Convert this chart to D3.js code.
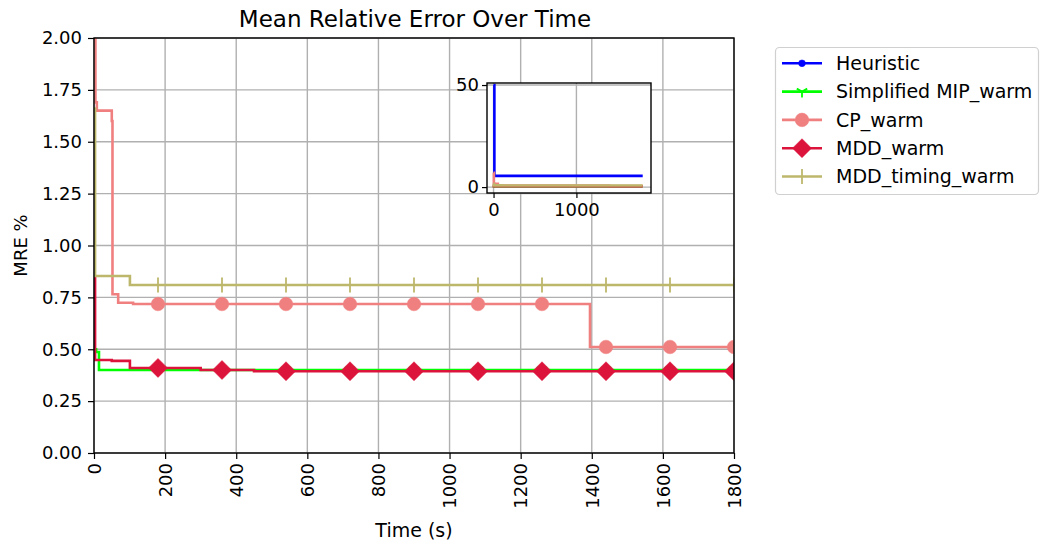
<!DOCTYPE html>
<html><head><meta charset="utf-8">
<script src="https://cdn.jsdelivr.net/npm/d3@7"></script>
<style>body{margin:0;background:#fff}svg{display:block;font-family:"DejaVu Sans",sans-serif}</style>
</head><body><svg id="c" width="1040" height="543"></svg>
<script>
// ---- data ----
const seriesNames = ["Heuristic","Simplified MIP_warm","CP_warm","MDD_warm","MDD_timing_warm"];
const seriesColors = ["#0000ff","#00ff00","#f08080","#dc143c","#bdb76b"];
const heuristicT = [0, 10, 1800];
const heuristicV = [50, 5.5, 5.5];
const simplifiedT = [0, 6, 14, 1800];
const simplifiedV = [0.50, 0.487, 0.400, 0.400];
const cpT = [0, 4, 8, 50, 52, 68, 110, 1395, 1800];
const cpV = [7.0, 1.69, 1.65, 1.60, 0.765, 0.724, 0.718, 0.511, 0.511];
const mddT = [0, 3, 50, 101, 300, 450, 1800];
const mddV = [0.85, 0.448, 0.444, 0.41, 0.400, 0.394, 0.394];
const mddTimingT = [0, 3, 101, 1800];
const mddTimingV = [1.66, 0.853, 0.810, 0.810];
const markerTimes = [180, 360, 540, 720, 900, 1080, 1260, 1440, 1620, 1800];
const xTicks = [0,200,400,600,800,1000,1200,1400,1600,1800];
const yTicks = [0,0.25,0.5,0.75,1.0,1.25,1.5,1.75,2.0];
const insetXTicks = [0, 1000];
const insetYTicks = [0, 50];
const markerTypes = ["dot","tri","circle","diamond","vline"];

const allT = [heuristicT, simplifiedT, cpT, mddT, mddTimingT];
const allV = [heuristicV, simplifiedV, cpV, mddV, mddTimingV];
const series = seriesNames.map((n,i)=>({name:n,color:seriesColors[i],marker:markerTypes[i],
  pts: allT[i].map((t,j)=>[t, allV[i][j]])}));
function valAt(s, t){ let v=s.pts[0][1]; for(const p of s.pts){ if(p[0]<=t) v=p[1]; } return v; }

const svg = d3.select("#c");
const L=94,R=734,T=38,B=453;
const LW=2.6;
const x = d3.scaleLinear().domain([0,1800]).range([L,R]);
const y = d3.scaleLinear().domain([0,2]).range([B,T]);

svg.append("defs").append("clipPath").attr("id","clipMain").append("rect")
  .attr("x",L).attr("y",T).attr("width",R-L).attr("height",B-T);

// grid
const g = svg.append("g");
g.selectAll(".gx").data(xTicks).enter().append("line")
  .attr("x1",d=>x(d)).attr("x2",d=>x(d)).attr("y1",T).attr("y2",B)
  .attr("stroke","#b0b0b0").attr("stroke-width",1.4);
g.selectAll(".gy").data(yTicks).enter().append("line")
  .attr("y1",d=>y(d)).attr("y2",d=>y(d)).attr("x1",L).attr("x2",R)
  .attr("stroke","#b0b0b0").attr("stroke-width",1.4);

function markerPath(type, size){
  const s=size;
  if(type==="circle") return d3.symbol(d3.symbolCircle, Math.PI*s*s)();
  if(type==="dot") return d3.symbol(d3.symbolCircle, Math.PI*s*s)();
  if(type==="diamond") return `M0,${-s}L${s},0L0,${s}L${-s},0Z`;
  if(type==="tri") return `M0,0L0,${s}M0,0L${-s*0.87},${-s*0.5}M0,0L${s*0.87},${-s*0.5}`;
  if(type==="vline") return `M0,${-s}L0,${s}`;
}
const markerSize = {dot:3.4, tri:6, circle:6.8, diamond:9.5, vline:7.5};
function drawMarker(sel, type, color, cx, cy){
  const p = sel.append("path").attr("d", markerPath(type, markerSize[type]))
    .attr("transform",`translate(${cx},${cy})`);
  if(type==="tri"||type==="vline") p.attr("fill","none").attr("stroke",color).attr("stroke-width",1.8);
  else p.attr("fill",color).attr("stroke",color).attr("stroke-width",0.5);
}

const line = d3.line().x(d=>x(d[0])).y(d=>y(d[1])).curve(d3.curveStepAfter);
const plot = svg.append("g").attr("clip-path","url(#clipMain)");
series.forEach(s=>{
  plot.append("path").attr("d",line(s.pts)).attr("fill","none")
    .attr("stroke",s.color).attr("stroke-width",LW);
  markerTimes.forEach(t=>{
    const v = valAt(s,t);
    drawMarker(plot, s.marker, s.color, x(t), y(v));
  });
});

// frame
svg.append("rect").attr("x",L).attr("y",T).attr("width",R-L).attr("height",B-T)
  .attr("fill","none").attr("stroke","#000").attr("stroke-width",1.4);

// axes
const xa = svg.append("g").attr("transform",`translate(0,${B})`)
  .call(d3.axisBottom(x).tickValues(xTicks).tickSize(6).tickPadding(0).tickFormat(d3.format("d")));
xa.select(".domain").remove();
xa.selectAll("text").attr("font-size",18).attr("fill","#000").attr("font-family","DejaVu Sans")
  .attr("transform","rotate(-90)").attr("text-anchor","end")
  .attr("x",-10).attr("y",0).attr("dy","0.35em");
xa.selectAll("line").attr("stroke","#000").attr("stroke-width",1.2);

const ya = svg.append("g").attr("transform",`translate(${L},0)`)
  .call(d3.axisLeft(y).tickValues(yTicks).tickSize(6).tickPadding(6).tickFormat(d3.format(".2f")));
ya.select(".domain").remove();
ya.selectAll("text").attr("font-size",18).attr("fill","#000").attr("font-family","DejaVu Sans");
ya.selectAll("line").attr("stroke","#000").attr("stroke-width",1.2);

svg.append("text").attr("x",(L+R)/2+1).attr("y",27).attr("text-anchor","middle")
  .attr("font-size",23).text("Mean Relative Error Over Time");
svg.append("text").attr("x",(L+R)/2).attr("y",537).attr("text-anchor","middle")
  .attr("font-size",19).text("Time (s)");
svg.append("text").attr("transform",`translate(27,${(T+B)/2}) rotate(-90)`).attr("text-anchor","middle")
  .attr("font-size",18).text("MRE %");

// inset
const iL=487,iR=651,iT=83,iB=193;
const ix = d3.scaleLinear().domain([-79,1900]).range([iL,iR]);
const iy = d3.scaleLinear().domain([-2.9,51]).range([iB,iT]);
svg.append("defs").append("clipPath").attr("id","clipInset").append("rect")
  .attr("x",iL).attr("y",iT).attr("width",iR-iL).attr("height",iB-iT);
svg.append("rect").attr("x",iL).attr("y",iT).attr("width",iR-iL).attr("height",iB-iT).attr("fill","#fff");
const ig = svg.append("g");
ig.selectAll(".igx").data(insetXTicks).enter().append("line")
  .attr("x1",d=>ix(d)).attr("x2",d=>ix(d)).attr("y1",iT).attr("y2",iB)
  .attr("stroke","#b0b0b0").attr("stroke-width",1.4);
ig.selectAll(".igy").data(insetYTicks).enter().append("line")
  .attr("y1",d=>iy(d)).attr("y2",d=>iy(d)).attr("x1",iL).attr("x2",iR)
  .attr("stroke","#b0b0b0").attr("stroke-width",1.4);
const iline = d3.line().x(d=>ix(d[0])).y(d=>iy(d[1])).curve(d3.curveStepAfter);
const iplot = svg.append("g").attr("clip-path","url(#clipInset)");
series.forEach(s=>{
  iplot.append("path").attr("d",iline(s.pts)).attr("fill","none")
    .attr("stroke",s.color).attr("stroke-width",LW);
});
svg.append("rect").attr("x",iL).attr("y",iT).attr("width",iR-iL).attr("height",iB-iT)
  .attr("fill","none").attr("stroke","#000").attr("stroke-width",1.4);
const ixa = svg.append("g").attr("transform",`translate(0,${iB})`)
  .call(d3.axisBottom(ix).tickValues(insetXTicks).tickSize(5).tickPadding(5).tickFormat(d3.format("d")));
ixa.select(".domain").remove();
ixa.selectAll("text").attr("font-size",18).attr("fill","#000").attr("font-family","DejaVu Sans");
ixa.selectAll("line").attr("stroke","#000").attr("stroke-width",1.2);
const iya = svg.append("g").attr("transform",`translate(${iL},0)`)
  .call(d3.axisLeft(iy).tickValues(insetYTicks).tickSize(5).tickPadding(3).tickFormat(d3.format("d")));
iya.select(".domain").remove();
iya.selectAll("text").attr("font-size",18).attr("fill","#000").attr("font-family","DejaVu Sans");
iya.selectAll("line").attr("stroke","#000").attr("stroke-width",1.2);

// legend
const lg = svg.append("g");
lg.append("rect").attr("x",775.5).attr("y",47.5).attr("width",263).attr("height",147).attr("rx",4)
  .attr("fill","#fff").attr("stroke","#d0d0d0").attr("stroke-width",1.2);
series.forEach((s,i)=>{
  const cy = 63.3 + i*28.3;
  lg.append("line").attr("x1",782).attr("x2",822).attr("y1",cy).attr("y2",cy)
    .attr("stroke",s.color).attr("stroke-width",LW);
  drawMarker(lg, s.marker, s.color, 802, cy);
  lg.append("text").attr("x",836).attr("y",cy).attr("dy","0.36em").attr("font-size",19).text(s.name);
});
</script></body></html>
